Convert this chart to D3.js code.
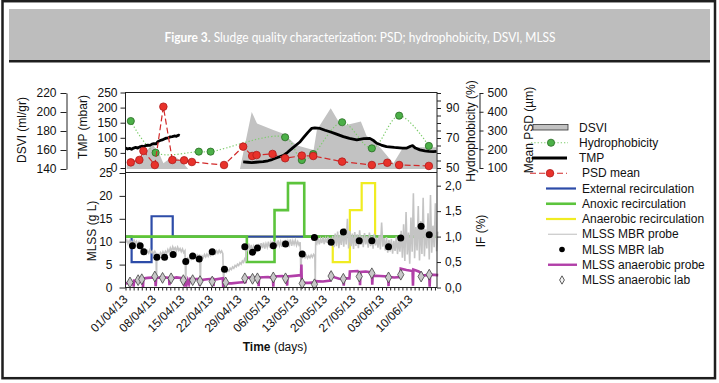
<!DOCTYPE html>
<html>
<head>
<meta charset="utf-8">
<script src="https://cdn.jsdelivr.net/npm/d3@7"></script>
<style>
  body { margin: 0; background: #fff; }
  svg { display: block; }
</style>
</head>
<body>
<svg id="chart" width="719" height="383"></svg>
<script>
// ---- data (days counted from 01/04/2013) ----
const weekDays = [0, 7, 14, 21, 28, 35, 42, 49, 56, 63, 70];
const weekLabels = ["01/04/13", "08/04/13", "15/04/13", "22/04/13", "29/04/13", "06/05/13",
                    "13/05/13", "20/05/13", "27/05/13", "03/06/13", "10/06/13"];

// DSVI (ml/gr) - grey area
const dsvi = [[0.3,144],[3.6,153],[6.0,163],[6.8,165],[8.1,158],[9.3,146],[10.9,151],[12.2,153],
  [13.8,148],[15.4,140],[28.1,140],[31.0,200],[32.3,188],[36.3,181],[38.8,177],[42.0,165],
  [43.7,163],[46.2,160],[47.0,181],[50.4,204],[53.0,185],[57.8,190],[59.2,175],[62.5,163],
  [65.8,146],[68.2,163],[76.4,163]];

// Hydrophobicity (%)
const hydroDays = [1.3, 7.4, 18.0, 20.9, 39.2, 43.3, 46.1, 53.2, 60.5, 67.2, 74.5];
const hydroVals = [81.3, 60.2, 60.9, 60.9, 70.5, 55.3, 59.3, 80.5, 63.1, 84.9, 64.7];

// TMP (mbar), two runs
const tmpRun1 = [[0,66],[0.5,63],[1,65],[1.5,62],[2,66],[2.5,68],[3,66],[3.5,70],[4,72],[4.5,71],
  [5,74],[5.5,76],[6,75],[6.5,79],[7,81],[7.5,80],[8,88],[8.5,91],[9,93],[9.5,96],[10,99],
  [10.5,100],[11,103],[11.5,104],[12,106],[12.5,105],[13,109],[13.3,107]];
const tmpRun2 = [[28.9,20],[30,19],[31,18],[32,19],[33,20],[33.8,21],[35,24],[36,28],[37,33],
  [38,38],[38.8,42],[39.8,52],[41,66],[42,77],[42.9,87],[43.8,102],[44.8,118],[45.7,131],
  [46.5,133],[47.8,131],[49,125],[50.2,120],[51.5,114],[53.5,104],[55,98],[56.8,93],[58.5,97],
  [60,98],[61,90],[61.7,82],[62.8,76],[64.1,71],[66,68],[68,66],[69.1,66],[70,72],[70.5,74],
  [71.2,66],[72.3,60],[73.5,57],[74.5,55],[75.6,54],[76.4,55]];

// PSD mean (um)
const psdDays = [1.3, 3.4, 4.4, 7.2, 9.3, 11.5, 14.4, 16.3, 24.2, 28.9, 31.1, 32.2, 36.1, 39.2,
                 43.3, 46.1, 53.2, 60.5, 64.3, 67.2, 74.5];
const psdVals = [130, 143, 191, 116, 427, 143, 141, 132, 116, 214, 164, 169, 175, 152, 166, 164,
                 134, 116, 128, 116, 111];

// recirculation (IF %) step changes
const extDays = [0, 1.5, 6.4, 11.6, 76.5];
const extVals = [1.0, 0.5, 1.4, 1.0, 1.0];
const anoxDays = [0, 29.8, 36.6, 39.9, 43.9, 76.5];
const anoxVals = [1.0, 0.5, 1.52, 2.05, 1.0, 1.0];
const anaeDays = [0, 50.9, 55.1, 58.0, 61.3, 76.5];
const anaeVals = [1.0, 0.5, 1.52, 2.05, 1.0, 1.0];

// MLSS MBR lab (g/L)
const labDays = [1.7, 3.6, 4.5, 7.7, 9.6, 11.7, 14.8, 16.5, 18.1, 21.3, 24.3, 29.3, 31.2, 32.4,
                 36.3, 39.3, 43.4, 46.4, 50.5, 53.5, 57.4, 60.5, 64.6, 67.6, 72.6, 74.6];
const labVals = [9.1, 9.1, 7.8, 6.6, 6.6, 7.2, 5.7, 6.9, 6.2, 7.8, 4.0, 8.9, 7.7, 8.6, 9.1, 9.5,
                 7.3, 10.9, 9.9, 12.1, 10.2, 10.2, 8.9, 10.8, 13.4, 11.5];

// MLSS anaerobic lab (g/L)
const anLabDays = [1.1, 3.1, 4.0, 7.2, 9.1, 11.2, 14.2, 16.5, 18.3, 21.3, 24.6, 29.3, 31.2, 32.4,
                   36.3, 39.3, 43.4, 46.4, 50.5, 53.5, 57.4, 60.5, 64.6, 67.6, 72.6, 74.6];
const anLabVals = [1.1, 1.6, 1.8, 2.4, 2.1, 2.0, 1.6, 1.6, 1.4, 1.3, 1.1, 2.0, 1.9, 2.0, 2.2, 2.0,
                   0.9, 0.7, 2.5, 1.9, 2.4, 3.1, 2.2, 2.8, 2.4, 2.8];

// MLSS MBR probe (g/L)
const probeMbr = [[0,9.8],[0.3,10.4],[0.6,9.6],[0.9,10.2],[1.2,9.4],[1.5,10.0],[1.8,9.5],[2.1,10.3],
  [2.4,9.7],[2.7,10.1],[3.0,9.3],[3.3,9.9],[3.6,9.0],[3.9,8.2],[4.2,8.4],[4.5,7.6],[4.8,8.1],
  [5.1,7.4],[5.4,8.0],[5.7,7.5],[6.0,8.2],[6.3,7.6],[6.6,8.0],[6.9,7.3],[7.2,7.9],[7.5,7.4],
  [7.6,0.3],[7.7,6.8],[8.0,7.3],[8.3,6.9],[8.6,7.6],[8.9,7.1],[9.2,7.8],[9.5,7.2],[9.8,7.9],
  [10.1,7.4],[10.4,8.3],[10.7,7.7],[11.0,8.6],[11.3,7.9],[11.6,8.9],[11.9,8.2],[12.2,8.7],
  [12.5,8.0],[12.8,8.8],[13.1,8.1],[13.4,8.5],[13.7,7.8],[14.0,8.4],[14.3,7.6],[14.6,8.0],
  [14.8,0.4],[14.9,5.8],[15.2,6.4],[15.5,6.0],[15.8,6.7],[16.1,6.2],[16.4,6.9],[16.7,6.4],
  [17.0,7.0],[17.3,6.5],[17.6,7.1],[17.9,6.6],[18.2,7.2],[18.4,0.5],[18.5,6.3],[18.8,6.9],
  [19.1,6.5],[19.4,7.2],[19.7,6.7],[20.0,7.3],[20.3,6.8],[20.6,7.4],[20.9,7.0],[21.2,7.7],
  [21.5,7.2],[21.8,7.9],[22.1,7.4],[22.4,8.0],[22.7,7.5],[23.0,8.1],[23.3,7.6],[23.6,8.0],
  [23.9,7.4],[24.1,0.3],[24.2,3.2],[24.5,3.6],[24.8,3.3],[25.1,3.9],[25.4,3.6],[25.7,4.2],
  [26.0,3.9],[26.3,4.5],[26.6,4.2],[26.9,4.8],[27.2,4.5],[27.5,5.1],[27.8,4.8],[28.1,5.4],
  [28.4,5.1],[28.7,5.8],[29.0,5.5],[29.3,6.3],[29.6,6.0],[29.7,9.2],[30.0,8.4],[30.3,9.6],
  [30.6,8.1],[30.9,9.3],[31.2,7.9],[31.5,9.0],[31.8,8.3],[32.1,9.4],[32.4,8.0],[32.7,9.5],
  [33.0,8.4],[33.3,9.7],[33.6,8.6],[33.9,9.8],[34.2,8.5],[34.5,9.6],[34.8,8.8],[35.1,10.0],
  [35.4,8.7],[35.7,9.8],[36.0,8.9],[36.3,10.1],[36.6,8.8],[36.9,9.9],[37.2,9.0],[37.5,10.3],
  [37.8,9.1],[38.1,10.0],[38.4,8.9],[38.7,10.2],[39.0,9.2],[39.3,10.4],[39.6,9.0],[39.9,10.1],
  [40.2,9.3],[40.5,10.5],[40.8,9.1],[41.1,10.2],[41.4,9.4],[41.7,10.3],[42.0,9.2],[42.3,10.0],
  [42.6,9.3],[42.9,9.9],[43.1,0.5],[43.2,7.0],[43.5,6.6],[43.8,7.1],[44.1,6.5],[44.4,7.0],
  [44.7,6.4],[45.0,6.9],[45.3,6.5],[45.6,7.1],[45.9,6.6],[46.2,7.2],[46.5,6.8],[46.6,0.2],
  [46.7,10.2],[47.0,9.6],[47.3,10.8],[47.6,9.4],[47.9,10.6],[48.2,9.7],[48.5,11.0],[48.8,9.5],
  [49.1,10.7],[49.4,9.8],[49.7,11.1],[50.0,9.6],[50.3,10.9],[50.6,9.2],[50.9,11.3],[51.2,8.8],
  [51.5,11.8],[51.8,9.0],[52.1,12.2],[52.4,8.6],[52.7,11.5],[53.0,9.3],[53.3,12.6],[53.6,8.9],
  [53.9,13.0],[54.2,9.4],[54.5,15.0],[54.8,8.5],[55.1,12.4],[55.4,9.0],[55.7,11.8],[56.0,8.4],
  [56.3,12.1],[56.6,9.1],[56.9,11.6],[57.2,8.6],[57.5,12.5],[57.8,9.3],[58.1,11.4],[58.4,8.8],
  [58.7,11.9],[59.0,9.4],[59.3,11.2],[59.6,8.7],[59.9,12.0],[60.2,9.0],[60.5,11.3],[60.8,8.5],
  [61.1,11.7],[61.4,9.2],[61.7,10.9],[62.0,8.7],[62.3,11.4],[62.6,8.3],[62.9,14.2],[63.2,8.9],
  [63.5,10.8],[63.8,8.1],[64.1,11.0],[64.4,7.6],[64.7,10.4],[65.0,7.9],[65.3,10.6],[65.6,7.4],
  [65.9,10.2],[66.2,8.0],[66.5,11.1],[66.8,7.3],[67.1,10.5],[67.4,7.8],[67.7,12.4],[68.0,6.5],
  [68.3,13.8],[68.6,5.8],[68.9,16.5],[69.2,7.2],[69.5,12.0],[69.8,5.2],[70.1,15.3],[70.4,7.8],
  [70.7,20.6],[71.0,6.4],[71.3,13.2],[71.6,8.1],[71.9,17.8],[72.2,5.9],[72.5,14.5],[72.8,7.3],
  [73.1,19.6],[73.4,6.8],[73.7,12.7],[74.0,8.5],[74.3,16.2],[74.6,6.1],[74.9,20.2],[75.2,7.6],
  [75.5,13.5],[75.8,8.8],[76.1,18.4],[76.4,7.9],[76.7,12.2]];

// MLSS anaerobic probe (g/L)
const probeAnae = [[0,0.9],[1.0,1.0],[1.9,0.9],[2.0,0.2],[2.1,1.5],[3.0,1.4],[4.2,1.5],[4.3,0.1],
  [4.4,2.0],[5.5,2.1],[7.3,2.2],[7.4,0.3],[7.5,2.0],[9.0,2.3],[10.7,2.1],[10.8,0.5],[10.9,1.9],
  [12.5,2.2],[14.4,2.0],[14.5,0.2],[14.6,1.2],[15.0,0.6],[15.3,1.6],[15.6,0.8],[15.9,1.9],
  [16.5,1.8],[18.1,1.9],[18.2,0.4],[18.3,1.6],[20.0,1.8],[21.5,1.9],[21.6,0.3],[21.7,1.7],
  [23.9,2.0],[24.0,0.1],[24.1,0.9],[26.0,0.9],[28.0,1.1],[29.5,1.2],[29.6,2.1],[31.0,2.2],
  [32.6,2.0],[32.7,0.3],[32.8,2.2],[35.0,2.3],[36.2,2.1],[36.3,0.2],[36.4,2.4],[38.5,2.5],
  [39.6,2.3],[39.7,0.4],[39.8,2.4],[42.0,2.6],[43.1,2.7],[43.2,5.0],[43.3,1.0],[45.0,1.0],
  [46.5,1.1],[46.6,0.1],[46.7,1.4],[48.5,1.3],[50.3,1.5],[50.4,2.8],[51.0,2.3],[52.5,1.9],
  [53.5,1.8],[53.6,0.4],[53.7,2.0],[55.0,2.0],[55.1,3.5],[57.0,3.6],[57.5,3.2],[57.6,0.5],
  [57.7,3.4],[59.0,3.5],[60.5,3.3],[60.6,0.6],[60.7,2.6],[62.5,2.5],[64.5,2.4],[64.6,0.3],
  [64.7,2.3],[66.0,2.2],[67.5,2.3],[67.6,4.1],[69.0,3.8],[70.5,3.6],[70.6,0.4],[70.7,3.9],
  [72.0,3.5],[72.6,3.1],[72.7,2.6],[74.0,2.7],[74.6,2.5],[74.7,0.2],[74.8,2.8],[76.8,2.7]];

const legendLabels = ["DSVI", "Hydrophobicity", "TMP", "PSD mean", "External recirculation",
  "Anoxic recirculation", "Anaerobic recirculation", "MLSS MBR probe", "MLSS MBR lab",
  "MLSS anaerobic probe", "MLSS anaerobic lab"];

// ---- drawing ----
const FONT = "'Liberation Sans', Arial, sans-serif";
const T0 = Date.UTC(2013, 3, 1);
const t = d => new Date(T0 + d * 864e5);

const svg = d3.select("#chart").style("font-family", FONT);

// frame and header band
svg.append("rect").attr("x", 2.5).attr("y", 1.2).attr("width", 712.5).attr("height", 377)
  .attr("fill", "#fff").attr("stroke", "#1e1e1e").attr("stroke-width", 2.5);
svg.append("rect").attr("x", 9).attr("y", 9).attr("width", 701).attr("height", 51).attr("fill", "#bdbdbd");
svg.append("rect").attr("x", 9).attr("y", 60).attr("width", 701).attr("height", 2.5).attr("fill", "#1e1e1e");
const title = svg.append("text")
  .attr("x", 360).attr("y", 42).attr("text-anchor", "middle").attr("fill", "#fff")
  .style("font-family", "Lato, 'Open Sans', sans-serif").style("font-size", "12.5px")
  .attr("textLength", 391).attr("lengthAdjust", "spacingAndGlyphs");
title.append("tspan").style("font-weight", "bold").text("Figure 3.");
title.append("tspan").text(" Sludge quality characterization: PSD; hydrophobicity, DSVI, MLSS");

const L = 125.5, R = 437, T = 92.5, MID = 172.5, B = 287.5;

const x = d3.scaleUtc().domain([t(0), t(76.5)]).range([L, R]);
const yTmp = d3.scaleLinear().domain([0, 250]).range([168, 92.5]);
const yDsvi = d3.scaleLinear().domain([140, 220]).range([169, 93]);
const yHyd = d3.scaleLinear().domain([50, 100]).range([168, 93]);
const yPsd = d3.scaleLinear().domain([100, 500]).range([168, 93]);
const yMlss = d3.scaleLinear().domain([0, 25]).range([B, 173]);
const yIf = d3.scaleLinear().domain([0, 2.2]).range([B, 175.5]);

function styleAxis(g) {
  g.attr("font-family", FONT).attr("font-size", 12);
  g.selectAll(".tick text").attr("fill", "#111");
  g.selectAll("line, path").attr("stroke", "#222");
}

// ---- top panel ----
svg.append("path")
  .datum(dsvi)
  .attr("fill", "#c2c2c2")
  .attr("d", d3.area().x(d => x(t(d[0]))).y0(yDsvi(140)).y1(d => yDsvi(d[1])));

const hydro = hydroDays.map((d, i) => [d, hydroVals[i]]);
svg.append("path")
  .datum(hydro)
  .attr("fill", "none").attr("stroke", "#7dcc6c").attr("stroke-width", 1.2)
  .attr("stroke-dasharray", "1.3,2")
  .attr("d", d3.line().curve(d3.curveCatmullRom).x(d => x(t(d[0]))).y(d => yHyd(d[1])));

const tmpLine = d3.line().x(d => x(t(d[0]))).y(d => yTmp(d[1]));
[tmpRun1, tmpRun2].forEach(run => {
  svg.append("path").datum(run)
    .attr("fill", "none").attr("stroke", "#000").attr("stroke-width", 2.8)
    .attr("stroke-linejoin", "round")
    .attr("d", tmpLine);
});

svg.selectAll(".hyd").data(hydro).enter().append("circle")
  .attr("class", "hyd")
  .attr("cx", d => x(t(d[0]))).attr("cy", d => yHyd(d[1])).attr("r", 3.6)
  .attr("fill", "#4cb048").attr("stroke", "#2a6b25").attr("stroke-width", 0.8);

const psd = psdDays.map((d, i) => [d, psdVals[i]]);
svg.append("path").datum(psd)
  .attr("fill", "none").attr("stroke", "#d22a2a").attr("stroke-width", 1.2)
  .attr("stroke-dasharray", "6,3")
  .attr("d", d3.line().x(d => x(t(d[0]))).y(d => yPsd(d[1])));
svg.selectAll(".psd").data(psd).enter().append("circle")
  .attr("class", "psd")
  .attr("cx", d => x(t(d[0]))).attr("cy", d => yPsd(d[1])).attr("r", 3.8)
  .attr("fill", "#e8322b").attr("stroke", "#b01c1c").attr("stroke-width", 0.8);

// ---- bottom panel ----
const stepLine = d3.line().curve(d3.curveStepAfter).x(d => x(t(d[0]))).y(d => yIf(d[1]));
[[anaeDays, anaeVals, "#f0ec22", 2.2], [extDays, extVals, "#2d4ca8", 2.2], [anoxDays, anoxVals, "#5cc43c", 2.6]]
  .forEach(([days, vals, col, w]) => {
    svg.append("path").datum(days.map((d, i) => [d, vals[i]]))
      .attr("fill", "none").attr("stroke", col).attr("stroke-width", w)
      .attr("d", stepLine);
  });

const mlssLine = d3.line().x(d => x(t(d[0]))).y(d => yMlss(d[1]));
svg.append("path").datum(probeMbr)
  .attr("fill", "none").attr("stroke", "#c4c4c4").attr("stroke-width", 1.6)
  .attr("d", mlssLine);
svg.append("path").datum(probeAnae)
  .attr("fill", "none").attr("stroke", "#b13fa8").attr("stroke-width", 2.6)
  .attr("d", mlssLine);

svg.selectAll(".lab").data(labDays).enter().append("circle")
  .attr("class", "lab")
  .attr("cx", d => x(t(d))).attr("cy", (d, i) => yMlss(labVals[i])).attr("r", 3.5)
  .attr("fill", "#000");

const diamond = d3.symbol().type(d3.symbolDiamond).size(34);
svg.selectAll(".anlab").data(anLabDays).enter().append("path")
  .attr("class", "anlab")
  .attr("transform", (d, i) => `translate(${x(t(d))},${yMlss(anLabVals[i])})`)
  .attr("d", diamond)
  .attr("fill", "#c8c8c8").attr("stroke", "#444").attr("stroke-width", 0.8);

// ---- frame of the plot ----
svg.append("rect").attr("x", L).attr("y", T).attr("width", R - L).attr("height", B - T)
  .attr("fill", "none").attr("stroke", "#222").attr("stroke-width", 1);
svg.append("line").attr("x1", L).attr("x2", R).attr("y1", MID).attr("y2", MID)
  .attr("stroke", "#222").attr("stroke-width", 1);

// ---- axes ----
svg.append("g").attr("transform", `translate(${L},0)`)
  .call(d3.axisLeft(yTmp).tickValues([0, 50, 100, 150, 200, 250]).tickSize(5).tickPadding(3))
  .call(g => g.select(".domain").remove())
  .call(styleAxis);

svg.append("g").attr("transform", "translate(66.5,0)")
  .call(d3.axisLeft(yDsvi).tickValues([140, 160, 180, 200, 220]).tickSize(6).tickSizeOuter(0).tickPadding(4))
  .call(styleAxis);

svg.append("g").attr("transform", `translate(${R},0)`)
  .call(d3.axisRight(yHyd).tickValues(d3.range(50, 101, 5)).tickSize(4).tickPadding(5)
    .tickFormat(d => (d === 50 || d === 70 || d === 90) ? d : ""))
  .call(g => g.select(".domain").remove())
  .call(styleAxis);

svg.append("g").attr("transform", "translate(479.5,0)")
  .call(d3.axisRight(yPsd).tickValues([100, 200, 300, 400, 500]).tickSize(4).tickSizeOuter(0).tickPadding(4))
  .call(styleAxis);

svg.append("g").attr("transform", `translate(${L},0)`)
  .call(d3.axisLeft(yMlss).tickValues([0, 5, 10, 15, 20, 25]).tickSize(6).tickPadding(7))
  .call(g => g.select(".domain").remove())
  .call(styleAxis);

svg.append("g").attr("transform", `translate(${R},0)`)
  .call(d3.axisRight(yIf).tickValues([0, 0.5, 1, 1.5, 2]).tickSize(4).tickPadding(4)
    .tickFormat(d => d3.format(".1f")(d).replace(".", ",")))
  .call(g => g.select(".domain").remove())
  .call(styleAxis);

svg.append("g").attr("transform", `translate(0,${B})`)
  .call(d3.axisBottom(x).ticks(d3.utcDay.every(1)).tickSize(3).tickFormat(""))
  .call(g => g.select(".domain").remove())
  .call(styleAxis);

svg.append("g").selectAll("text").data(weekDays).enter().append("text")
  .attr("transform", d => `translate(${x(t(d)) + 3},300) rotate(-45)`)
  .attr("text-anchor", "end").attr("font-size", 12).attr("fill", "#111")
  .text((d, i) => weekLabels[i]);

// ---- axis titles ----
const axisTitle = (tx, ty, rot, txt) => svg.append("text")
  .attr("transform", `translate(${tx},${ty}) rotate(${rot})`)
  .attr("text-anchor", "middle").attr("font-size", 12).attr("fill", "#111").text(txt);
axisTitle(26, 130, -90, "DSVI (ml/gr)");
axisTitle(87, 127, -90, "TMP (mbar)");
axisTitle(96, 231, -90, "MLSS (g L)");
axisTitle(475, 131, -90, "Hydrophobicity (%)");
axisTitle(533, 130, -90, "Mean PSD (\u00b5m)");
axisTitle(485, 231, -90, "IF (%)");

const xt = svg.append("text").attr("x", 275).attr("y", 351).attr("text-anchor", "middle")
  .attr("font-size", 12).attr("fill", "#111");
xt.append("tspan").attr("font-weight", "bold").text("Time");
xt.append("tspan").text(" (days)");

// ---- legend ----
const lg = svg.append("g");
const ly = i => 127.5 + i * 15.25;
lg.selectAll("text").data(legendLabels).enter().append("text")
  .attr("x", (d, i) => i < 3 ? 579 : 582).attr("y", (d, i) => ly(i)).attr("dy", "0.35em")
  .attr("font-size", 12).attr("fill", "#111").text(d => d);

lg.append("rect").attr("x", 533).attr("y", ly(0) - 3).attr("width", 35).attr("height", 5.5)
  .attr("fill", "#c2c2c2").attr("stroke", "#333").attr("stroke-width", 0.8);
lg.append("line").attr("x1", 531).attr("x2", 568).attr("y1", ly(1)).attr("y2", ly(1))
  .attr("stroke", "#7dcc6c").attr("stroke-width", 1.2).attr("stroke-dasharray", "1.3,2");
lg.append("circle").attr("cx", 551).attr("cy", ly(1)).attr("r", 3.6)
  .attr("fill", "#4cb048").attr("stroke", "#2a6b25").attr("stroke-width", 0.8);
lg.append("line").attr("x1", 532).attr("x2", 567).attr("y1", ly(2)).attr("y2", ly(2))
  .attr("stroke", "#000").attr("stroke-width", 2.8);
lg.append("line").attr("x1", 530).attr("x2", 567).attr("y1", ly(3)).attr("y2", ly(3))
  .attr("stroke", "#d22a2a").attr("stroke-width", 1.2).attr("stroke-dasharray", "6,3");
lg.append("circle").attr("cx", 550).attr("cy", ly(3)).attr("r", 3.8)
  .attr("fill", "#e8322b").attr("stroke", "#b01c1c").attr("stroke-width", 0.8);
[["#2d4ca8", 2.2], ["#5cc43c", 2.6], ["#f0ec22", 2.2]].forEach(([c, w], k) => {
  lg.append("line").attr("x1", 546).attr("x2", 576).attr("y1", ly(4 + k)).attr("y2", ly(4 + k))
    .attr("stroke", c).attr("stroke-width", w);
});
lg.append("line").attr("x1", 548).attr("x2", 577).attr("y1", ly(7)).attr("y2", ly(7))
  .attr("stroke", "#c4c4c4").attr("stroke-width", 1.1);
lg.append("circle").attr("cx", 562).attr("cy", ly(8)).attr("r", 2.8).attr("fill", "#000");
lg.append("line").attr("x1", 548).attr("x2", 577).attr("y1", ly(9)).attr("y2", ly(9))
  .attr("stroke", "#b13fa8").attr("stroke-width", 2.4);
lg.append("path").attr("transform", `translate(562,${ly(10)})`)
  .attr("d", d3.symbol().type(d3.symbolDiamond).size(20))
  .attr("fill", "#f4f4f4").attr("stroke", "#333").attr("stroke-width", 0.8);
</script>
</body>
</html>
